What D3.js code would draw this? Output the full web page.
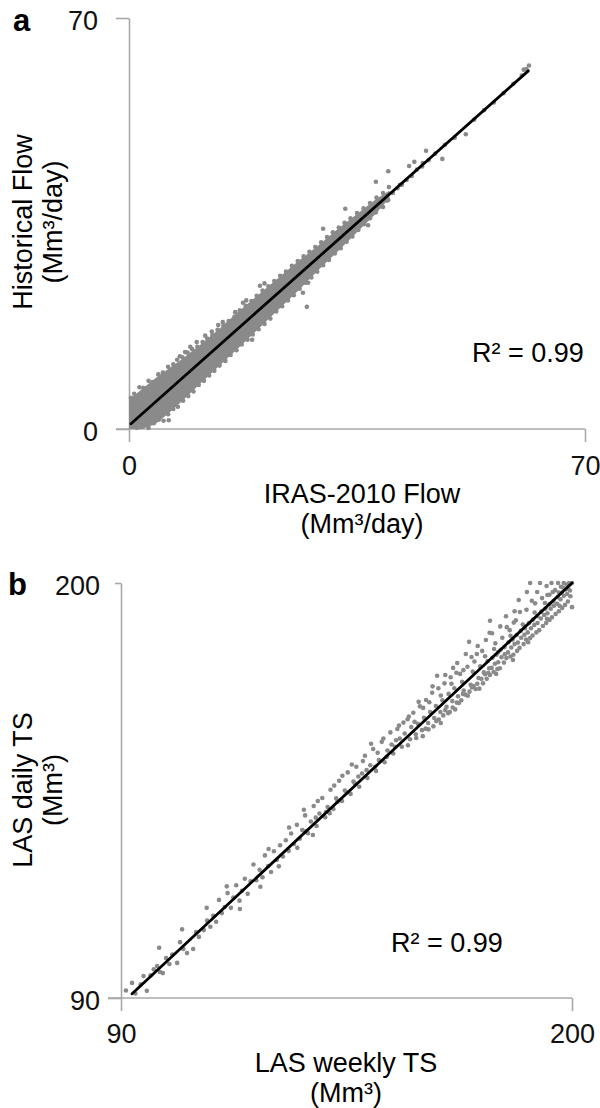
<!DOCTYPE html>
<html>
<head>
<meta charset="utf-8">
<script src="https://cdn.jsdelivr.net/npm/d3@7"></script>
<style>
  html, body { margin: 0; padding: 0; background: #fff; }
  svg { display: block; font-family: "Liberation Sans", Arial, sans-serif; }
</style>
</head>
<body>
<svg id="chart" width="600" height="1108"></svg>
<script>
// ---------- Panel a data ----------
const aTicks = [0, 70];
const aBandX  = [0, 2, 4, 6, 8, 11, 14, 17, 20, 23, 26, 29, 32, 35, 38, 40];
const aBandLo = [0, 0, 0.8, 2.6, 4.6, 7.8, 10.9, 14.0, 17.2, 20.4, 23.6, 27.0, 30.2, 33.5, 36.8, 39.4];
const aBandHi = [5, 6.8, 8.6, 10.2, 11.8, 14.4, 17.2, 20.2, 23.0, 25.8, 28.6, 31.2, 34.0, 36.6, 39.2, 40.6];
const aPoints = [
  [0.3,5.3],[0.8,6.0],[1.6,7.1],[2.2,7.0],[3.0,8.2],[3.6,8.0],[4.5,9.3],[5.2,9.6],[6.0,10.6],[6.8,11.0],
  [7.4,11.8],[8.2,12.2],[9.0,13.0],[9.7,13.6],[10.5,14.0],[11.3,14.8],[12.0,15.4],[12.8,16.0],[13.6,16.9],
  [14.5,17.6],[15.3,18.4],[16.2,19.1],[17.0,20.2],[17.9,21.0],[18.8,21.8],[19.6,22.7],[20.5,23.6],[21.4,24.3],
  [22.3,25.2],[23.2,26.1],[24.1,26.8],[25.0,27.8],[25.9,28.6],[26.8,29.4],[27.7,30.2],[28.6,31.0],[29.5,31.8],
  [30.4,32.7],[31.3,33.5],[32.2,34.3],[33.1,35.1],[34.0,35.9],[35.0,36.8],[36.0,37.6],[37.0,38.5],[38.0,39.4],[39.0,40.2],
  [1.2,0.2],[2.0,0.4],[3.0,0.2],[3.8,1.0],[4.6,1.6],[5.3,1.4],[6.0,2.5],[6.8,3.4],[7.5,3.8],[8.3,4.8],[9.1,5.6],
  [9.9,6.4],[10.7,7.5],[11.5,8.2],[12.3,9.1],[13.1,9.9],[13.9,10.8],[14.8,11.6],[15.6,12.6],[16.5,13.4],[17.3,14.4],
  [18.2,15.2],[19.0,16.1],[19.9,17.0],[20.8,17.9],[21.7,18.8],[22.6,20.0],[23.5,20.9],[24.4,21.9],[25.3,22.8],
  [26.2,23.9],[27.1,24.9],[28.0,25.8],[28.9,26.8],[29.8,27.9],[30.7,28.8],[31.6,29.9],[32.5,30.8],[33.4,31.9],
  [34.3,32.8],[35.2,33.9],[36.1,34.9],[37.0,35.9],[37.9,36.9],[38.8,37.9],[39.6,38.9],
  [6.1,1.5],[6.3,3.6],[7.8,12.4],[8.6,13.1],[9.4,14.0],[10.4,14.8],[11.7,15.9],[12.7,16.6],
  [13.7,17.7],[14.4,18.2],[16.3,19.9],[17.5,21.5],[18.0,21.9],[18.9,15.2],[20.1,24.4],[20.8,24.8],
  [27.3,20.8],[26.7,23.2],[27.5,24.9],[29.8,34.1],[31.5,33.0],[32.9,33.9],[33.2,37.5],
  [36.7,34.7],[37.9,42.1],[39.0,37.8],[39.8,39.0],[39.8,43.9],[39.9,41.2],[41.6,41.6],[43.0,44.8],
  [43.8,45.5],[45.1,45.3],[45.6,47.4],[48.1,46.0],[51.7,50.2],
  [40.5,40.2],[41.2,41.0],[41.9,41.6],[42.6,42.4],[43.4,43.1],[44.2,44.2],[45.0,44.7],[46.0,45.8],
  [47.0,46.9],[48.5,48.4],[50.0,49.6],[53.0,52.7],[54.5,54.3],[56.0,55.6],[57.5,57.2],[59.0,58.8],
  [60.3,60.2],[61.0,61.3],[61.4,61.9],[60.6,61.2]
];
const aFit = [[0.3, 0.9], [61.3, 61.0]];

// ---------- Panel b data ----------
const bTicks = [90, 200];
const bPoints = [
  [91.2,92.0],[92.7,94.0],[93.5,91.2],[94.8,93.6],[96.3,91.9],[95.5,95.8],[97.2,96.0],[98.0,97.6],[98.8,98.5],
  [99.3,103.3],[99.5,96.9],[100.2,96.6],[101.0,100.6],[101.8,99.0],[102.5,101.5],[103.7,99.3],[104.4,104.8],
  [105.2,103.0],[106.1,101.9],[107.6,103.0],[108.3,107.5],[109.0,106.2],[110.2,108.0],[111.0,110.5],
  [111.8,108.9],[112.5,111.8],[113.2,110.2],[113.9,116.0],[114.6,112.5],[115.3,114.1],[116.0,117.8],
  [116.8,113.9],[117.4,116.6],[118.1,119.9],[118.9,115.8],[119.5,118.4],[120.2,121.6],[120.9,117.6],
  [121.6,120.9],[122.3,125.4],[123.0,121.2],[123.8,124.0],[124.5,122.0],[125.1,127.8],[125.9,125.0],
  [126.6,123.4],[127.3,128.9],[128.0,126.6],[128.8,130.5],[129.5,127.5],[130.2,131.8],
  [130.9,129.0],[131.5,133.6],[132.2,130.8],[132.9,135.9],[133.6,132.2],[134.2,134.5],[134.9,138.4],
  [135.6,133.7],[136.3,136.8],[137.0,140.9],[137.7,135.6],[138.4,138.9],[139.1,143.0],[139.8,137.9],
  [140.4,140.6],[141.1,145.2],[141.8,140.1],[142.5,142.9],[143.2,147.6],[143.9,142.2],[144.6,145.0],
  [145.3,149.8],[146.0,144.1],[146.7,147.4],[147.4,151.3],[148.1,146.0],[148.8,149.5],[149.5,154.2],
  [150.1,148.3],[150.8,151.7],[151.5,156.0],[152.2,150.2],[152.9,153.1],[153.6,157.9],[154.3,152.5],
  [155.0,155.6],[155.7,160.4],[156.4,154.8],[157.1,158.3],[157.8,162.2],[158.5,156.6],[159.2,160.1],
  [159.9,163.9],[160.5,158.6],
  [160.8,161.8],[161.3,165.6],[161.9,159.9],[162.4,162.7],[162.9,167.3],[163.4,161.0],[163.9,164.3],
  [164.4,169.0],[164.9,162.9],[165.4,165.8],[165.9,170.9],[166.4,164.2],[166.8,167.4],[167.1,175.4],
  [167.4,172.1],[167.9,165.8],[168.4,168.9],[168.9,173.4],[169.4,167.2],[169.9,170.6],[170.4,175.0],
  [170.8,168.7],[171.0,177.5],[171.3,172.1],[171.8,176.2],[172.2,170.0],[172.7,175.9],[173.2,173.8],
  [173.6,171.5],[174.1,181.2],[174.5,177.8],[174.9,184.4],[175.3,173.0],[175.8,176.5],[176.2,179.2],
  [176.8,181.2],[177.2,174.8],[177.6,177.9],[178.1,182.0],[178.5,176.3],[179.0,184.9],[179.4,179.3],[179.8,177.4],
  [165.0,161.2],[166.2,162.0],[167.5,163.8],[168.6,164.9],[169.8,165.5],[170.9,167.0],[171.9,168.3],
  [173.0,168.9],[174.0,170.4],[175.0,171.2],[176.0,172.7],[176.9,173.3],[177.9,174.6],[178.8,175.8],
  [179.6,176.2],[180.4,177.5],[181.2,178.6],[182.0,179.0],[182.8,180.3],[183.6,181.1],[184.4,181.6],
  [185.2,182.9],[186.0,183.8],[186.8,184.2],[187.6,185.5],[188.4,186.3],[189.2,186.9],[190.0,188.0],
  [190.8,188.9],[191.6,189.4],[192.4,190.6],[193.2,191.5],[194.0,192.0],[194.8,193.2],[195.6,194.0],
  [196.4,194.5],[197.2,195.7],[198.0,196.6],[198.8,197.1],[199.5,198.0],
  [170.2,165.8],[172.4,168.2],[174.6,170.1],[176.5,171.9],[178.3,173.4],[180.0,175.6],[181.8,177.2],
  [183.4,178.9],[185.0,180.5],[186.6,182.0],[188.2,183.8],[189.8,185.4],[191.3,186.9],[192.9,188.6],
  [194.5,190.2],[196.0,191.8],[197.6,193.4],[199.0,195.1],[200.0,193.6],
  [180.6,180.2],[181.6,181.0],[182.6,182.3],[183.5,183.0],[184.5,184.3],[185.5,185.0],[186.5,186.2],
  [187.5,187.3],[188.5,188.0],[189.5,189.4],[190.5,190.3],[191.5,191.2],[192.5,192.4],[193.5,193.2],
  [194.5,194.4],[195.5,195.2],[196.5,196.3],[197.5,197.4],[198.5,198.3],[199.5,199.6],
  [180.0,190.0],[180.5,186.7],[181.3,184.0],[182.0,181.7],[182.5,188.5],[183.9,191.2],[184.1,188.3],
  [185.0,186.0],[186.0,192.5],[187.3,192.3],[188.0,189.0],[189.0,197.6],[189.8,200.0],[190.2,195.3],
  [190.9,192.2],[191.5,197.6],[192.2,200.0],[193.4,194.7],[193.8,199.2],[194.5,196.9],[195.0,200.0],
  [195.9,198.1],[196.6,200.0],[197.3,199.0],[198.0,200.0],[198.7,199.6],[199.3,200.0],[200.0,200.0],
  [187.0,195.5],[185.8,189.5],[183.0,185.5],[194.0,196.8],[196.8,197.5],
  [126.0,129.5],[128.5,124.9],[131.0,135.2],[133.0,129.8],[134.6,139.9],[136.8,133.2],[138.0,142.2],
  [140.9,139.0],[142.0,146.3],[144.0,148.9],[146.3,151.9],[147.9,148.7],[149.0,152.8],[151.0,157.4],
  [152.6,155.0],[154.0,158.8],[156.0,157.2],[157.4,161.3],[158.9,163.0],[160.2,164.6],[161.6,163.2],
  [162.6,168.5],[163.7,166.9],[165.2,168.4],[166.0,172.6],[168.0,170.2],[169.1,175.6],[170.6,173.3],
  [172.0,178.8],[173.5,176.9],[175.5,180.4],[177.0,183.3],[178.8,180.6],[179.9,186.8],[181.0,182.5],
  [184.8,187.5],[186.3,190.1],[188.9,192.9],[191.0,194.6],[192.7,196.0],[195.3,197.6],[197.8,198.8],[199.0,198.6],
  [160.0,157.0],[162.0,158.9],[163.6,159.4],[164.3,161.4],[166.9,163.4],[168.0,162.9],[169.1,166.3],
  [171.5,166.5],[173.4,170.6],[175.6,172.3],[177.4,172.0],[179.2,174.6],[180.9,176.4],[182.4,177.4],
  [184.0,180.1],[185.7,181.0],[187.2,182.8],[188.8,185.0],[190.4,186.1],[192.0,187.5],[193.7,189.4],
  [195.1,190.9],[196.8,192.5],[198.3,194.2],[199.6,196.5],[197.0,193.9],[193.9,190.5],[189.3,184.3],
  [185.6,179.6],[181.5,175.9],
  [135.0,134.2],[137.5,137.8],[140.0,139.3],[142.8,142.0],[145.0,144.5],[147.0,146.9],[149.9,150.4],
  [152.0,151.3],[154.8,153.9],[156.8,156.6],[158.0,158.8],
  [104.9,108.2],[110.9,113.9],[115.8,119.6],[119.0,113.6],[124.0,119.5]
];
const bFit = [[92.7, 91.1], [200, 200]];

const labels = {
  a: { panel: "a", y1: "Historical Flow", y2: "(Mm³/day)", x1: "IRAS-2010 Flow", x2: "(Mm³/day)", r2: "R² = 0.99" },
  b: { panel: "b", y1: "LAS daily TS", y2: "(Mm³)", x1: "LAS weekly TS", x2: "(Mm³)", r2: "R² = 0.99" }
};

// ---------- Drawing ----------
const svg = d3.select("#chart");
const AXIS = "#a8a8a8", PT = "#8a8a8a", FS = 27;

function styleAxis(g) {
  g.selectAll("path.domain").attr("stroke", AXIS).attr("stroke-width", 1.6);
  g.selectAll(".tick line").attr("stroke", AXIS).attr("stroke-width", 1.6);
  g.selectAll(".tick text").attr("fill", "#111").style("font-size", FS + "px")
    .style("font-family", '"Liberation Sans", Arial, sans-serif');
}

function panel(cfg) {
  const { x, y, ticks, band, points, fit, lab, yTickLen, yTickTopLen, xPad, yPad, yTitleY, xTitleX, xTitleY, r2x, r2y, panelX, panelY } = cfg;
  const g = svg.append("g");

  const gx = g.append("g").attr("transform", `translate(0,${y.range()[0]})`)
    .call(d3.axisBottom(x).tickValues(ticks).tickSize(13).tickSizeOuter(0).tickPadding(xPad).tickFormat(d3.format("d")));
  gx.select("path.domain").attr("d", `M${x.range()[0] - yTickLen},0H${x.range()[1]}`);
  styleAxis(gx);

  const gy = g.append("g").attr("transform", `translate(${x.range()[0]},0)`)
    .call(d3.axisLeft(y).tickValues(ticks).tickSize(yTickLen).tickSizeOuter(0).tickPadding(yPad).tickFormat(d3.format("d")));
  gy.selectAll(".tick").filter(d => d === ticks[1]).select("line").attr("x2", -yTickTopLen);
  gy.selectAll(".tick text").attr("dy", "0.42em");
  styleAxis(gy);

  if (band) {
    const area = d3.area().x(d => x(d[0])).y0(d => y(d[1])).y1(d => y(d[2]));
    g.append("path").datum(band).attr("d", area).attr("fill", PT);
  }

  g.append("g").selectAll("circle").data(points).join("circle")
    .attr("cx", d => x(d[0])).attr("cy", d => y(d[1])).attr("r", 2.3).attr("fill", PT);

  g.append("line")
    .attr("x1", x(fit[0][0])).attr("y1", y(fit[0][1]))
    .attr("x2", x(fit[1][0])).attr("y2", y(fit[1][1]))
    .attr("stroke", "#000").attr("stroke-width", 2.8).attr("stroke-linecap", "round");

  g.append("text").attr("x", panelX).attr("y", panelY).attr("font-weight", "bold")
    .style("font-size", "31px").attr("fill", "#000").text(lab.panel);

  const yt = g.append("text").attr("transform", `translate(32,${yTitleY}) rotate(-90)`)
    .attr("text-anchor", "middle").style("font-size", FS + "px").attr("fill", "#000");
  yt.append("tspan").attr("x", 0).attr("y", 0).text(lab.y1);
  yt.append("tspan").attr("x", 0).attr("y", 30).text(lab.y2);

  const xt = g.append("text").attr("text-anchor", "middle").style("font-size", FS + "px").attr("fill", "#000");
  xt.append("tspan").attr("x", xTitleX).attr("y", xTitleY).text(lab.x1);
  xt.append("tspan").attr("x", xTitleX).attr("y", xTitleY + 30).text(lab.x2);

  g.append("text").attr("x", r2x).attr("y", r2y).style("font-size", FS + "px").attr("fill", "#000").text(lab.r2);
}

const ax = d3.scaleLinear().domain([0, 70]).range([129, 585]);
const ay = d3.scaleLinear().domain([0, 70]).range([429, 18]);
const bx = d3.scaleLinear().domain([90, 200]).range([121, 572]);
const by = d3.scaleLinear().domain([90, 200]).range([998, 583]);

panel({
  x: ax, y: ay, ticks: aTicks,
  band: aBandX.map((v, i) => [v, aBandLo[i], aBandHi[i]]),
  points: aPoints, fit: aFit, lab: labels.a,
  yTickLen: 13, yTickTopLen: 13, xPad: 14, yPad: 18,
  yTitleY: 222, xTitleX: 362, xTitleY: 503, r2x: 472, r2y: 362, panelX: 13, panelY: 31
});

panel({
  x: bx, y: by, ticks: bTicks,
  band: null,
  points: bPoints, fit: bFit, lab: labels.b,
  yTickLen: 13, yTickTopLen: 6, xPad: 13, yPad: 8,
  yTitleY: 790, xTitleX: 346, xTitleY: 1072, r2x: 391, r2y: 952, panelX: 8, panelY: 595
});
</script>
</body>
</html>
